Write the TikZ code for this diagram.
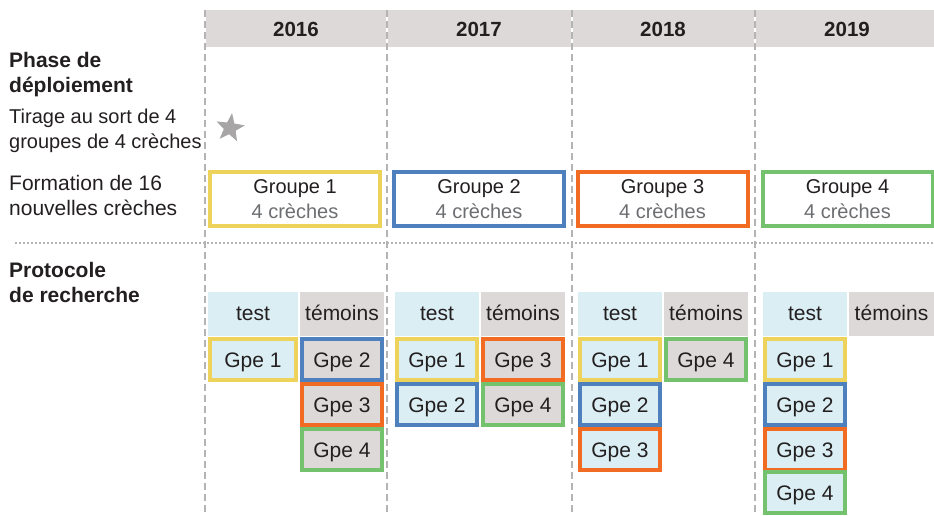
\documentclass[tikz,border=0pt]{standalone}
\usepackage{fontspec}
\setmainfont{Liberation Sans}
\usetikzlibrary{shapes.geometric}
\definecolor{bandgray}{HTML}{DDD9D8}
\definecolor{testblue}{HTML}{DAEEF3}
\definecolor{gjaune}{HTML}{EDD35C}
\definecolor{gbleu}{HTML}{4E80BD}
\definecolor{gorange}{HTML}{F26B22}
\definecolor{gvert}{HTML}{74C26E}
\definecolor{ink}{HTML}{231F20}
\definecolor{soft}{HTML}{6D6E71}
\definecolor{rulegray}{HTML}{B4B4B4}
\definecolor{stargray}{HTML}{A7A5A6}
\tikzset{
    yearnode/.style = {font=\fontsize{20.5}{25}\selectfont\bfseries, text=ink},
    labelnode/.style = {anchor=west, align=left, text=ink, inner sep=0pt},
    groupnode/.style = {rectangle, line width=4pt, fill=white, align=center, text=ink, inner sep=0pt, minimum width=170pt, minimum height=54pt},
    headtest/.style = {rectangle, fill=testblue, text=ink, inner sep=0pt, minimum width=84pt, minimum height=44pt, font=\fontsize{21}{25}\selectfont, text height=17pt, text depth=4pt},
    headtem/.style = {headtest, fill=bandgray},
    gpetest/.style = {rectangle, line width=4.5pt, fill=testblue, text=ink, inner sep=0pt, minimum width=80pt, minimum height=41pt, font=\fontsize{21}{25}\selectfont, text height=18pt, text depth=3pt},
    gpetem/.style = {gpetest, fill=bandgray},
}

\begin{document}
\begin{tikzpicture}[
	x=1pt, y=-1pt,
	font=\fontsize{20}{25}\selectfont
]
\tikzset{
    colline/.style = {rulegray, line width=2.5pt, dash pattern=on 7pt off 4pt},
    sepline/.style = {rulegray, line width=1.6pt, dash pattern=on 1.6pt off 2.4pt},
}
\useasboundingbox (0,0) rectangle (934,515);
% bande des annees
\fill[bandgray] (205,10) rectangle (934,47);
\draw[white, line width=2.5pt] (205,10) -- (205,47) (387,10) -- (387,47) (572,10) -- (572,47) (755,10) -- (755,47);
\draw[colline] (205,10) -- (205,515);
\draw[colline] (387,10) -- (387,515);
\draw[colline] (572,10) -- (572,515);
\draw[colline] (755,10) -- (755,515);
\node[yearnode] at (296,29) (y16) {2016};
\node[yearnode] at (479,29) (y17) {2017};
\node[yearnode] at (663,29) (y18) {2018};
\node[yearnode] at (847,29) (y19) {2019};
%
\node[labelnode, font=\fontsize{21}{25}\selectfont\bfseries] at (9,74.5) (phase) {Phase de\\déploiement};
\node[labelnode] at (9,130.5) (tirage) {Tirage au sort de 4\\groupes de 4 crèches};
\node[labelnode, font=\fontsize{21}{25}\selectfont] at (9,195.5) (formation) {Formation de 16\\nouvelles crèches};
\node[star, star points=5, star point ratio=2.4, fill=stargray, minimum size=30pt, inner sep=0pt, rotate=-8] at (230,128) (tirstar) {};
%
\node[groupnode, draw=gjaune] at (295,199) (g1) {Groupe 1\\{\color{soft}4 crèches}};
\node[groupnode, draw=gbleu] at (479,199) (g2) {Groupe 2\\{\color{soft}4 crèches}};
\node[groupnode, draw=gorange] at (662.5,199) (g3) {Groupe 3\\{\color{soft}4 crèches}};
\node[groupnode, draw=gvert] at (847.5,199) (g4) {Groupe 4\\{\color{soft}4 crèches}};
%
\draw[sepline] (15,243) -- (934,243);
\node[labelnode, font=\fontsize{21}{25}\selectfont\bfseries] at (9,282.5) (proto) {Protocole\\de recherche};
% 2016
\node[headtest, minimum width=90pt] at (253,314) (t16) {test};
\node[headtem] at (342,314) (w16) {témoins};
\node[gpetest, draw=gjaune, minimum width=86pt] at (253,359.5) (t16a) {Gpe 1};
\node[gpetem, draw=gbleu] at (342,359.5) (w16a) {Gpe 2};
\node[gpetem, draw=gorange] at (342,404.5) (w16b) {Gpe 3};
\node[gpetem, draw=gvert] at (342,449.5) (w16c) {Gpe 4};
% 2017
\node[headtest] at (437,314) (t17) {test};
\node[headtem] at (523,314) (w17) {témoins};
\node[gpetest, draw=gjaune] at (437,359.5) (t17a) {Gpe 1};
\node[gpetest, draw=gbleu] at (437,404.5) (t17b) {Gpe 2};
\node[gpetem, draw=gorange] at (523,359.5) (w17a) {Gpe 3};
\node[gpetem, draw=gvert] at (523,404.5) (w17b) {Gpe 4};
% 2018
\node[headtest] at (620,314) (t18) {test};
\node[headtem] at (706,314) (w18) {témoins};
\node[gpetest, draw=gjaune] at (620,359.5) (t18a) {Gpe 1};
\node[gpetest, draw=gbleu] at (620,404.5) (t18b) {Gpe 2};
\node[gpetest, draw=gorange] at (620,449.5) (t18c) {Gpe 3};
\node[gpetem, draw=gvert] at (706,359.5) (w18a) {Gpe 4};
% 2019
\node[headtest] at (805,314) (t19) {test};
\node[headtem, minimum width=85pt] at (891.5,314) (w19) {témoins};
\node[gpetest, draw=gjaune] at (805,359.5) (t19a) {Gpe 1};
\node[gpetest, draw=gbleu] at (805,404.5) (t19b) {Gpe 2};
\node[gpetest, draw=gorange] at (805,449.5) (t19c) {Gpe 3};
\node[gpetest, draw=gvert] at (805,492.5) (t19d) {Gpe 4};
\end{tikzpicture}
\end{document}
